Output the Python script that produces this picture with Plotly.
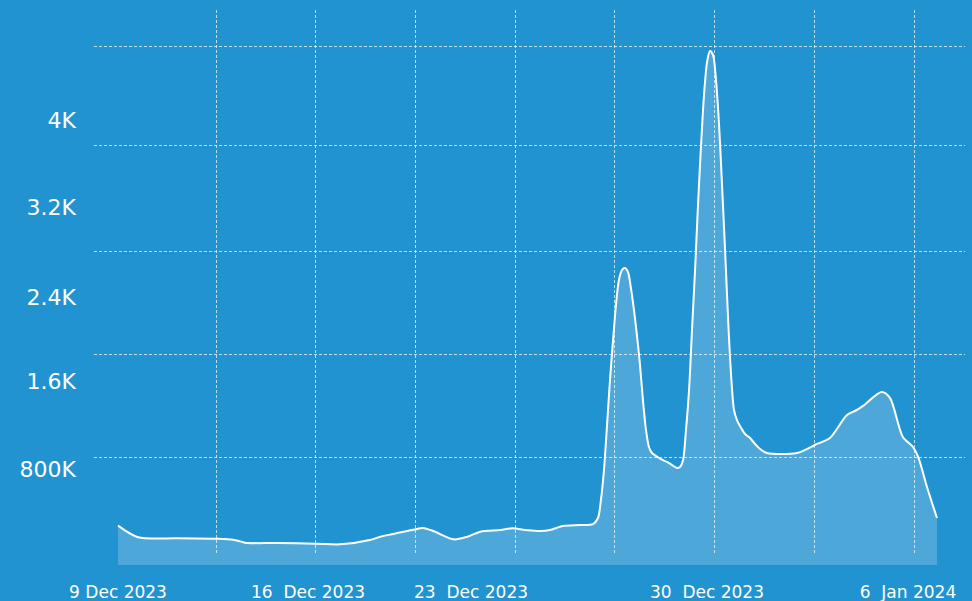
import pandas as pd
import plotly.graph_objects as go

# ---- data ----
start_date = "2023-12-09 00:00"
# hours after start_date of each sample
hours = [
    0, 17, 50, 83, 98, 108, 135, 168, 189, 214, 223, 234, 254, 259, 268, 285,
    297, 308, 325, 335, 348, 359, 367, 378, 393,
    403.7, 407.9, 410.4, 413.0, 415.6, 418.1, 420.7, 423.2, 425.7, 428.3,
    430.8, 433.4, 435.9, 438.5, 441.0, 443.6, 446.1, 448.7, 451.2, 453.8,
    457.2, 461.4, 466.5, 470.8, 475.0, 477.6, 480.2, 482.7, 485.3, 487.8,
    490.4, 492.9, 495.5, 498.0, 500.6, 503.1, 505.7, 508.2, 510.8, 513.3,
    515.9, 518.5, 521.0, 523.5, 526.0, 528.6, 532.9, 537.1, 541.4, 545.6,
    551.5, 577, 594, 605, 619.5, 628, 633, 649, 656, 667, 675.6, 680, 687.5, 696,
]
values = [
    360, 254, 244, 241, 232, 204, 201, 195, 189, 229, 259, 284, 330, 339, 311, 235,
    259, 305, 320, 336, 318, 311, 320, 357, 366,
    375, 430, 595, 870, 1281, 1693, 2059, 2380, 2609, 2700,
    2718, 2682, 2535, 2334, 2105, 1831, 1510, 1236, 1080, 1025,
    998, 970, 943, 915, 888, 897, 961, 1236, 1602, 2151,
    2700, 3295, 3844, 4302, 4604, 4705, 4668, 4439, 4027, 3478,
    2883, 2242, 1739, 1419, 1327, 1272, 1199, 1162, 1108, 1062,
    1025, 1025, 1108, 1162, 1373, 1419, 1455, 1583, 1529, 1172, 1080, 989, 714, 430,
]

y_tick_vals = [874, 1680, 2453, 3277, 4073]
y_tick_text = ["800K", "1.6K", "2.4K", "3.2K", "4K"]

x_tick_vals = ["2023-12-09 00:00", "2023-12-15 17:30", "2023-12-21 12:00",
               "2023-12-29 20:30", "2024-01-05 23:20"]
x_tick_text = ["9 Dec 2023", "16\u00a0\u00a0Dec 2023", "23\u00a0\u00a0Dec 2023",
               "30\u00a0\u00a0Dec 2023", "6\u00a0\u00a0Jan 2024"]

grid_x_vals = ["2023-12-12 11:18", "2023-12-16 00:06", "2023-12-19 12:48",
               "2023-12-23 01:36", "2023-12-26 14:18", "2023-12-30 03:06",
               "2024-01-02 15:48", "2024-01-06 04:36"]
grid_y_vals = [988, 1931, 2874, 3844, 4750]

x_range = ["2023-12-08 03:36", "2024-01-07 23:48"]
y_range = [0, 5080]
grid_y_range = [91.5, 5080]

dates = pd.to_datetime(start_date) + pd.to_timedelta(hours, unit="h")

# ---- figure ----
BG = "#2193d0"
GRID = "rgba(255,255,255,0.7)"
FONT = "DejaVu Sans"

fig = go.Figure()
fig.add_trace(go.Scatter(
    x=dates, y=values, mode="lines",
    line=dict(color="white", width=2, shape="spline", smoothing=0.8),
    fill="tozeroy", fillcolor="rgba(255,255,255,0.2)",
    hoverinfo="skip", showlegend=False,
))
# empty trace that only registers the grid subplot
fig.add_trace(go.Scatter(x=[], y=[], xaxis="x2", yaxis="y2",
                         hoverinfo="skip", showlegend=False))

fig.update_layout(
    width=972, height=601,
    margin=dict(l=94, r=7, t=10, b=36, autoexpand=False),
    paper_bgcolor=BG, plot_bgcolor="rgba(0,0,0,0)",
    font=dict(family=FONT, color="white"),
    showlegend=False,
    xaxis=dict(
        type="date", range=x_range, showgrid=False, zeroline=False, showline=False,
        automargin=False,
        tickmode="array", tickvals=x_tick_vals, ticktext=x_tick_text,
        ticks="", ticklabelstandoff=15, tickfont=dict(family=FONT, size=17, color="white"),
    ),
    yaxis=dict(
        range=y_range, showgrid=False, zeroline=False, showline=False,
        automargin=False,
        tickmode="array", tickvals=y_tick_vals, ticktext=y_tick_text,
        ticks="", ticklabelstandoff=17, tickfont=dict(family=FONT, size=22, color="white"),
    ),
    xaxis2=dict(
        type="date", range=x_range, anchor="y2", domain=[0, 1],
        showgrid=True, gridcolor=GRID, griddash="3px,2px", gridwidth=1,
        tickmode="array", tickvals=grid_x_vals, automargin=False,
        showticklabels=False, ticks="", zeroline=False, showline=False,
    ),
    yaxis2=dict(
        range=grid_y_range, anchor="x2", domain=[10 / 555, 1],
        showgrid=True, gridcolor=GRID, griddash="3px,2px", gridwidth=1,
        tickmode="array", tickvals=grid_y_vals, automargin=False,
        showticklabels=False, ticks="", zeroline=False, showline=False,
    ),
)

fig.write_html(
    "out.html",
    config={"displayModeBar": False},
    post_script="document.body.style.margin='0';document.body.style.overflow='hidden';",
)
